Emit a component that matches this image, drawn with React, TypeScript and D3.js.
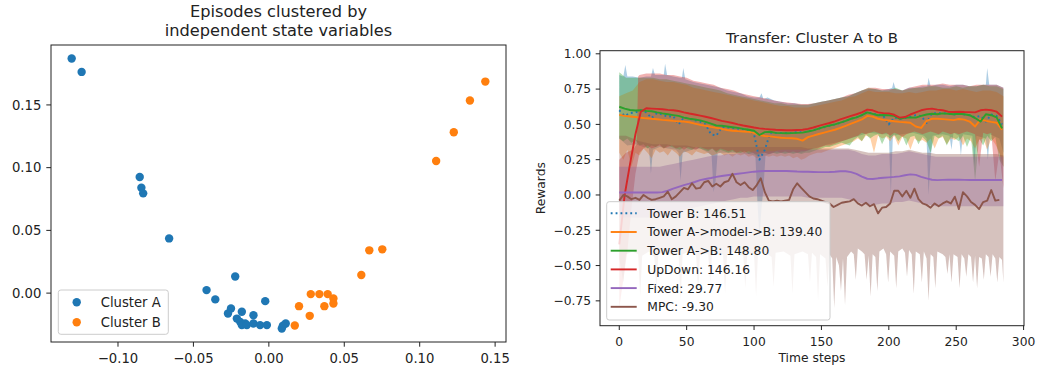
import React from "react";
import * as d3 from "d3";

const FONT = "'DejaVu Sans', 'Liberation Sans', sans-serif";
const C = {
  blue: "#1f77b4",
  orange: "#ff7f0e",
  green: "#2ca02c",
  red: "#d62728",
  purple: "#9467bd",
  brown: "#8c564b",
};

// ---------------- Left panel: episodes clustered by state variables ----------------
const CLUSTER_A_X = [
  -0.1307, -0.1241, -0.0856, -0.0845, -0.0833, -0.0661, -0.0223, -0.0413, -0.0355, -0.0024,
  -0.0251, -0.0271, -0.0179, -0.0102, -0.0212, -0.019, -0.0157, -0.0179, -0.0146, -0.0102,
  -0.0058, -0.0013, 0.0086, 0.0112, 0.0093,
];
const CLUSTER_A_Y = [
  0.187, 0.1763, 0.0926, 0.084, 0.0795, 0.0436, 0.0133, 0.0024, -0.005, -0.0064,
  -0.0122, -0.0162, -0.0149, -0.0176, -0.0203, -0.0229, -0.0242, -0.0255, -0.0255, -0.0242,
  -0.0255, -0.0255, -0.0282, -0.0242, -0.026,
];
const CLUSTER_B_X = [
  0.1435, 0.1333, 0.1226, 0.1109, 0.0752, 0.0666, 0.0613, 0.0278, 0.0335, 0.039,
  0.0428, 0.0428, 0.0368, 0.02, 0.0271, 0.0172,
];
const CLUSTER_B_Y = [
  0.1686, 0.1535, 0.1282, 0.1053, 0.0349, 0.0341, 0.0144, -0.0008, -0.0008, -0.0008,
  -0.0043, -0.0083, -0.0104, -0.0104, -0.0181, -0.0258,
];
const SCATTER_X_TICKS = [-0.1, -0.05, 0, 0.05, 0.1, 0.15];
const SCATTER_Y_TICKS = [0, 0.05, 0.1, 0.15];
const CLUSTER_LABELS = ["Cluster A", "Cluster B"];

// ---------------- Right panel: transfer rewards over time ----------------
const EPISODE_STEPS = [0, 286];
const LINE_STEP = 4; // mean curves sampled every 4 time steps (0..284)
const MPC_STEP = 3; // MPC mean sampled every 3 time steps (0..282)
const UPPER_STEP = 5; // band upper edges, every 5 steps (0..285)
const LOWER_STEP = 3; // band lower edges, every 3 steps (0..285)

const TOWER_B_MEAN = [
  0.6, 0.56, 0.58, 0.585, 0.6, 0.585, 0.545, 0.58, 0.57, 0.555,
  0.56, 0.5, 0.55, 0.54, 0.53, 0.52, 0.5, 0.43, 0.42, 0.48,
  0.48, 0.475, 0.47, 0.465, 0.46, 0.43, 0.25, 0.32, 0.44, 0.44,
  0.44, 0.44, 0.44, 0.445, 0.445, 0.45, 0.46, 0.47, 0.48, 0.49,
  0.5, 0.51, 0.525, 0.54, 0.55, 0.565, 0.59, 0.575, 0.57, 0.56,
  0.5, 0.55, 0.54, 0.545, 0.555, 0.565, 0.56, 0.51, 0.58, 0.58,
  0.58, 0.575, 0.57, 0.575, 0.57, 0.565, 0.55, 0.56, 0.52, 0.57,
  0.56, 0.5,
];
const MODEL_MEAN = [
  0.567, 0.56, 0.556, 0.552, 0.547, 0.543, 0.54, 0.536, 0.532, 0.529,
  0.525, 0.522, 0.52, 0.515, 0.505, 0.497, 0.49, 0.482, 0.475, 0.468,
  0.46, 0.455, 0.452, 0.45, 0.447, 0.44, 0.425, 0.418, 0.415, 0.41,
  0.405, 0.403, 0.402, 0.398, 0.385, 0.41, 0.42, 0.432, 0.442, 0.452,
  0.462, 0.475, 0.49, 0.505, 0.52, 0.535, 0.56, 0.555, 0.54, 0.532,
  0.528, 0.522, 0.518, 0.515, 0.512, 0.485, 0.475, 0.525, 0.54, 0.54,
  0.537, 0.534, 0.53, 0.538, 0.534, 0.52, 0.485, 0.535, 0.525, 0.518,
  0.512, 0.462,
];
const A_TO_B_MEAN = [
  0.625, 0.612, 0.602, 0.598, 0.6, 0.596, 0.593, 0.585, 0.578, 0.572,
  0.566, 0.56, 0.548, 0.54, 0.535, 0.528, 0.518, 0.505, 0.492, 0.49,
  0.485, 0.48, 0.475, 0.468, 0.462, 0.455, 0.425, 0.445, 0.448, 0.44,
  0.438, 0.437, 0.438, 0.44, 0.442, 0.45, 0.458, 0.47, 0.482, 0.492,
  0.5, 0.512, 0.525, 0.54, 0.55, 0.565, 0.585, 0.575, 0.565, 0.567,
  0.565, 0.56, 0.54, 0.548, 0.55, 0.548, 0.56, 0.57, 0.575, 0.572,
  0.578, 0.575, 0.572, 0.575, 0.572, 0.565, 0.545, 0.52, 0.572, 0.565,
  0.55, 0.472,
];
const UPDOWN_MEAN = [
  -0.35, 0.0, 0.22, 0.43, 0.59, 0.614, 0.612, 0.61, 0.607, 0.603,
  0.6, 0.595, 0.585, 0.577, 0.57, 0.562, 0.554, 0.545, 0.535, 0.525,
  0.518, 0.51, 0.5, 0.492, 0.485, 0.478, 0.472, 0.468, 0.465, 0.462,
  0.46, 0.458, 0.458, 0.46, 0.462, 0.468, 0.478, 0.49, 0.5, 0.51,
  0.522, 0.535, 0.548, 0.56, 0.572, 0.585, 0.605, 0.6, 0.585, 0.58,
  0.578, 0.568, 0.548, 0.552, 0.57, 0.585, 0.6, 0.608, 0.612, 0.605,
  0.6, 0.59, 0.588, 0.59, 0.588, 0.587, 0.585, 0.6, 0.605, 0.6,
  0.59, 0.555,
];
const FIXED_MEAN = [
  0.018, 0.018, 0.018, 0.018, 0.018, 0.018, 0.018, 0.018, 0.02, 0.03,
  0.045, 0.058, 0.07, 0.08, 0.092, 0.105, 0.113, 0.12, 0.128, 0.134,
  0.14, 0.145, 0.15, 0.155, 0.16, 0.165, 0.168, 0.17, 0.17, 0.17,
  0.17, 0.17, 0.168, 0.166, 0.165, 0.164, 0.163, 0.162, 0.162, 0.163,
  0.165, 0.168, 0.168, 0.162, 0.15, 0.13, 0.115, 0.113, 0.118, 0.122,
  0.125, 0.128, 0.132, 0.14, 0.146, 0.142, 0.128, 0.118, 0.108, 0.105,
  0.107, 0.108, 0.108, 0.108, 0.107, 0.106, 0.106, 0.106, 0.106, 0.106,
  0.106, 0.106,
];
const MPC_MEAN = [
  -0.04, 0.0, -0.01, -0.03, -0.02, -0.035, 0.0, -0.02, -0.035, -0.03,
  -0.02, -0.01, 0.024, -0.03, -0.01, 0.02, 0.05, 0.04, 0.083, 0.045,
  0.05, 0.09, 0.1, 0.06, 0.08, 0.06, 0.09, 0.1, 0.15, 0.09,
  0.07, 0.09, 0.055, 0.035, 0.07, 0.118, 0.02, -0.04, -0.045, -0.04,
  -0.045, -0.04, -0.035, 0.04, 0.083, 0.05, 0.02, -0.01, -0.025, -0.03,
  -0.04, -0.05, -0.06, -0.085, -0.07, -0.055, -0.05, -0.045, -0.03, -0.06,
  -0.075, -0.055, -0.08, -0.065, -0.13, -0.09, -0.085, -0.06, 0.03, 0.03,
  -0.01, 0.03, -0.02, 0.045, -0.03, -0.06, -0.07, -0.09, -0.06, -0.08,
  -0.06, -0.045, -0.06, -0.012, -0.1, 0.02, -0.01, -0.05, -0.07, -0.1,
  -0.05, -0.04, 0.035, -0.04, -0.035,
];

// Tower B band edges as [time step, reward] — thin spikes sampled where they occur
const TOWER_B_UPPER: [number, number][] = [
  [0, 0.85], [3, 0.84], [4.5, 0.92], [6, 0.84], [10, 0.84], [15, 0.83], [20, 0.84], [23.5, 0.84],
  [25, 0.9], [26.5, 0.85], [30, 0.85], [33, 0.85], [34, 0.93], [35.5, 0.85], [40, 0.84], [45, 0.83],
  [46.5, 0.83], [47.5, 0.9], [49, 0.82], [55, 0.8], [60, 0.79], [65, 0.78], [70, 0.77], [75, 0.76],
  [80, 0.74], [85, 0.73], [90, 0.72], [95, 0.7], [100, 0.69], [104, 0.69], [105.5, 0.72], [107, 0.68],
  [110, 0.69], [115, 0.67], [120, 0.66], [125, 0.65], [130, 0.65], [135, 0.64], [140, 0.64], [145, 0.65],
  [150, 0.66], [155, 0.67], [160, 0.68], [165, 0.69], [170, 0.7], [175, 0.72], [180, 0.74], [185, 0.75],
  [190, 0.75], [195, 0.74], [200, 0.75], [202.5, 0.76], [203.5, 0.8], [205, 0.75], [210, 0.74], [215, 0.76],
  [220, 0.76], [225, 0.77], [228.5, 0.77], [229.5, 0.83], [231, 0.77], [235, 0.78], [240, 0.78], [245, 0.77],
  [250, 0.78], [255, 0.78], [260, 0.77], [265, 0.77], [270, 0.78], [272, 0.78], [273, 0.9], [274.5, 0.78],
  [280, 0.78], [285, 0.76],
];
const TOWER_B_LOWER: [number, number][] = [
  [0, 0.4], [6, 0.35], [12, 0.36], [18, 0.34], [22, 0.33], [23.5, 0.15], [25, 0.32], [30, 0.34],
  [36, 0.33], [42, 0.32], [44, 0.3], [45.5, 0.1], [47, 0.3], [54, 0.32], [60, 0.33], [66, 0.3],
  [68.5, 0.28], [70, 0.02], [71.5, 0.1], [73, 0.3], [80, 0.3], [88, 0.3], [96, 0.29], [101, 0.28],
  [102.5, -0.05], [104, -0.3], [105.5, -0.1], [107, 0.05], [108.5, 0.28], [115, 0.3], [125, 0.3], [135, 0.3],
  [145, 0.33], [155, 0.36], [165, 0.38], [175, 0.41], [185, 0.44], [195, 0.43], [200, 0.43], [201.5, 0.0],
  [203, 0.42], [210, 0.43], [218, 0.44], [226, 0.42], [228, 0.4], [229.5, 0.0], [231, 0.25], [232.5, 0.42],
  [240, 0.43], [245, 0.42], [246.5, 0.32], [248, 0.44], [252, 0.42], [253.5, 0.28], [255, 0.43], [262, 0.42],
  [263.5, 0.2], [265, 0.42], [272, 0.4], [273.5, 0.25], [275, 0.43], [282, 0.4], [285, 0.3],
];
const MODEL_UPPER = [
  0.7, 0.72, 0.74, 0.8, 0.82, 0.82, 0.81, 0.8, 0.8, 0.79,
  0.78, 0.76, 0.75, 0.74, 0.73, 0.72, 0.71, 0.7, 0.69, 0.68,
  0.67, 0.66, 0.65, 0.64, 0.63, 0.63, 0.62, 0.62, 0.62, 0.63,
  0.64, 0.65, 0.66, 0.67, 0.69, 0.7, 0.72, 0.74, 0.73, 0.73,
  0.73, 0.72, 0.72, 0.73, 0.72, 0.73, 0.74, 0.74, 0.75, 0.75,
  0.74, 0.75, 0.74, 0.73, 0.74, 0.74, 0.73, 0.7,
];
const MODEL_LOWER = [
  0.3, 0.25, 0.32, 0.2, 0.3, 0.28, 0.33, 0.3, 0.26, 0.32,
  0.3, 0.31, 0.28, 0.32, 0.3, 0.27, 0.31, 0.3, 0.28, 0.31,
  0.3, 0.29, 0.3, 0.28, 0.29, 0.3, 0.28, 0.29, 0.27, 0.29,
  0.28, 0.29, 0.27, 0.28, 0.26, 0.27, 0.28, 0.27, 0.28, 0.27,
  0.28, 0.27, 0.28, 0.26, 0.27, 0.25, 0.26, 0.28, 0.29, 0.3,
  0.3, 0.31, 0.32, 0.33, 0.34, 0.35, 0.36, 0.37, 0.38, 0.4,
  0.38, 0.42, 0.41, 0.3, 0.42, 0.4, 0.41, 0.38, 0.42, 0.35,
  0.41, 0.4, 0.32, 0.4, 0.38, 0.39, 0.37, 0.4, 0.33, 0.4,
  0.41, 0.36, 0.4, 0.39, 0.41, 0.35, 0.4, 0.38, 0.33, 0.39,
  0.4, 0.32, 0.4, 0.36, 0.3, 0.2,
];
const A_TO_B_UPPER = [
  0.87, 0.83, 0.83, 0.83, 0.83, 0.83, 0.82, 0.82, 0.81, 0.8,
  0.79, 0.78, 0.77, 0.76, 0.75, 0.74, 0.72, 0.71, 0.7, 0.69,
  0.68, 0.67, 0.66, 0.65, 0.65, 0.64, 0.64, 0.64, 0.64, 0.65,
  0.66, 0.67, 0.68, 0.69, 0.7, 0.72, 0.74, 0.76, 0.75, 0.74,
  0.74, 0.76, 0.74, 0.75, 0.76, 0.76, 0.77, 0.77, 0.76, 0.76,
  0.77, 0.76, 0.77, 0.77, 0.78, 0.77, 0.77, 0.75,
];
const A_TO_B_LOWER = [
  0.4, 0.38, 0.4, 0.37, 0.39, 0.35, 0.36, 0.33, 0.35, 0.34,
  0.36, 0.33, 0.35, 0.34, 0.33, 0.32, 0.34, 0.33, 0.32, 0.34,
  0.33, 0.32, 0.31, 0.33, 0.3, 0.32, 0.31, 0.3, 0.31, 0.3,
  0.3, 0.31, 0.29, 0.3, 0.28, 0.29, 0.3, 0.29, 0.3, 0.29,
  0.3, 0.29, 0.3, 0.29, 0.3, 0.29, 0.3, 0.3, 0.31, 0.32,
  0.33, 0.34, 0.34, 0.35, 0.36, 0.37, 0.36, 0.35, 0.39, 0.41,
  0.38, 0.43, 0.4, 0.42, 0.43, 0.36, 0.42, 0.4, 0.43, 0.38,
  0.42, 0.35, 0.41, 0.42, 0.36, 0.41, 0.38, 0.3, 0.42, 0.4,
  0.42, 0.35, 0.41, 0.4, 0.38, 0.42, 0.34, 0.41, 0.1, 0.4,
  0.35, 0.42, 0.38, 0.41, 0.25, 0.2,
];
// UpDown upper edge: low while the agent warms up, then a sharp jump near step 14
const UPDOWN_UPPER: [number, number][] = [
  [0, 0.25], [5, 0.3], [10, 0.32], [13, 0.36], [14, 0.84], [15, 0.85], [20, 0.86], [25, 0.86],
  [30, 0.86], [35, 0.85], [40, 0.85], [45, 0.84], [50, 0.83], [55, 0.81], [60, 0.8], [65, 0.79],
  [70, 0.78], [75, 0.76], [80, 0.75], [85, 0.74], [90, 0.72], [95, 0.71], [100, 0.7], [105, 0.69],
  [110, 0.68], [115, 0.67], [120, 0.66], [125, 0.655], [130, 0.65], [135, 0.645], [140, 0.645], [145, 0.65],
  [150, 0.66], [155, 0.67], [160, 0.68], [165, 0.69], [170, 0.71], [175, 0.72], [180, 0.74], [185, 0.76],
  [190, 0.76], [195, 0.75], [200, 0.75], [205, 0.75], [210, 0.74], [215, 0.76], [220, 0.77], [225, 0.78],
  [230, 0.78], [235, 0.78], [240, 0.79], [245, 0.78], [250, 0.78], [255, 0.78], [260, 0.77], [265, 0.78],
  [270, 0.78], [275, 0.78], [280, 0.78], [285, 0.76],
];
const UPDOWN_LOWER = [
  -0.8, -0.6, -0.4, -0.1, 0.15, 0.3, 0.33, 0.35, 0.33, 0.34,
  0.35, 0.33, 0.34, 0.35, 0.33, 0.34, 0.32, 0.34, 0.33, 0.32,
  0.34, 0.33, 0.32, 0.33, 0.31, 0.33, 0.32, 0.31, 0.32, 0.3,
  0.31, 0.3, 0.31, 0.3, 0.29, 0.3, 0.3, 0.29, 0.3, 0.31,
  0.3, 0.31, 0.3, 0.31, 0.3, 0.31, 0.31, 0.32, 0.33, 0.33,
  0.34, 0.35, 0.35, 0.36, 0.37, 0.38, 0.39, 0.4, 0.41, 0.42,
  0.44, 0.43, 0.44, 0.45, 0.44, 0.43, 0.44, 0.42, 0.44, 0.43,
  0.41, 0.43, 0.44, 0.45, 0.44, 0.43, 0.44, 0.45, 0.44, 0.43,
  0.45, 0.44, 0.43, 0.44, 0.43, 0.44, 0.45, 0.44, 0.43, 0.2,
  0.44, 0.43, 0.44, 0.1, 0.3, 0.05,
];
const FIXED_UPPER = [
  0.2, 0.2, 0.2, 0.2, 0.2, 0.2, 0.2, 0.21, 0.22, 0.23,
  0.24, 0.25, 0.26, 0.27, 0.28, 0.28, 0.29, 0.29, 0.3, 0.3,
  0.31, 0.31, 0.31, 0.31, 0.32, 0.32, 0.32, 0.32, 0.32, 0.32,
  0.32, 0.32, 0.32, 0.32, 0.32, 0.31, 0.29, 0.28, 0.28, 0.29,
  0.29, 0.29, 0.3, 0.31, 0.3, 0.29, 0.28, 0.27, 0.27, 0.27,
  0.27, 0.27, 0.27, 0.27, 0.27, 0.27, 0.27, 0.27,
];
const FIXED_LOWER = [
  -0.16, -0.16, -0.16, -0.16, -0.16, -0.16, -0.16, -0.15, -0.13, -0.12,
  -0.1, -0.09, -0.08, -0.07, -0.06, -0.05, -0.04, -0.03, -0.02, -0.02,
  -0.01, -0.01, -0.01, -0.01, -0.01, -0.01, -0.01, -0.01, -0.02, -0.02,
  -0.02, -0.02, -0.02, -0.02, -0.03, -0.04, -0.06, -0.07, -0.07, -0.06,
  -0.06, -0.05, -0.05, -0.04, -0.05, -0.06, -0.07, -0.08, -0.08, -0.08,
  -0.08, -0.08, -0.08, -0.08, -0.08, -0.08, -0.08, -0.08,
];
const MPC_UPPER = [
  0.42, 0.42, 0.4, 0.38, 0.37, 0.36, 0.36, 0.36, 0.35, 0.35,
  0.35, 0.34, 0.34, 0.34, 0.34, 0.34, 0.34, 0.34, 0.34, 0.34,
  0.34, 0.34, 0.34, 0.34, 0.34, 0.34, 0.34, 0.34, 0.33, 0.33,
  0.33, 0.33, 0.33, 0.33, 0.33, 0.32, 0.31, 0.3, 0.3, 0.3,
  0.3, 0.31, 0.31, 0.32, 0.31, 0.3, 0.3, 0.29, 0.29, 0.29,
  0.29, 0.29, 0.29, 0.29, 0.29, 0.29, 0.29, 0.28,
];
// MPC lower edge as [time step, reward]: a ragged floor near -0.42 with narrow deep dips
const MPC_LOWER: [number, number][] = [
  [0, -0.45], [3, -0.62], [5, -0.42], [10, -0.4], [14, -0.42], [15.5, -0.72], [17, -0.43], [22, -0.4],
  [26, -0.44], [27.5, -0.66], [29, -0.42], [34, -0.4], [40, -0.43], [44, -0.42], [45.5, -0.75], [47, -0.42],
  [52, -0.4], [57, -0.43], [58.5, -0.68], [60, -0.41], [66, -0.42], [67.5, -0.62], [69, -0.4], [75, -0.43],
  [77, -0.42], [78.5, -0.7], [80, -0.42], [86, -0.4], [92, -0.43], [93.5, -0.66], [95, -0.41], [100, -0.42],
  [101.5, -0.72], [103, -0.4], [110, -0.42], [113, -0.44], [114.5, -0.65], [116, -0.41], [122, -0.4], [127, -0.43],
  [128.5, -0.7], [130, -0.42], [136, -0.4], [140, -0.42], [141.5, -0.62], [143, -0.41], [146, -0.44], [147.5, -0.75],
  [149, -0.42], [153, -0.45], [154.5, -0.65], [156, -0.42], [158, -0.45], [159.5, -0.8], [161, -0.44], [163, -0.5],
  [164.5, -0.68], [166, -0.45], [167.5, -0.78], [169, -0.44], [172, -0.4], [174, -0.42], [175.5, -0.6], [177, -0.38],
  [180, -0.4], [182, -0.42], [183.5, -0.6], [185, -0.43], [186.5, -0.72], [188, -0.42], [190, -0.44], [191.5, -0.68],
  [193, -0.4], [196, -0.38], [198, -0.42], [199.5, -0.62], [201, -0.4], [204, -0.43], [205.5, -0.66], [207, -0.4],
  [210, -0.38], [212, -0.41], [213.5, -0.58], [215, -0.39], [217, -0.42], [218.5, -0.7], [220, -0.4], [223, -0.42],
  [224.5, -0.62], [226, -0.4], [228, -0.45], [229.5, -0.75], [231, -0.42], [233, -0.44], [234.5, -0.66], [236, -0.4],
  [240, -0.42], [242, -0.44], [243.5, -0.56], [245, -0.42], [246.5, -0.62], [248, -0.42], [251, -0.44], [252.5, -0.66],
  [254, -0.42], [256, -0.45], [257.5, -0.58], [259, -0.42], [261, -0.44], [262.5, -0.62], [264, -0.43], [265.5, -0.66],
  [267, -0.44], [269, -0.45], [270.5, -0.6], [272, -0.42], [274, -0.44], [275.5, -0.58], [277, -0.42], [279, -0.45],
  [280.5, -0.62], [282, -0.44], [284, -0.46], [285, -0.62],
];

const REWARD_Y_TICKS = [-0.75, -0.5, -0.25, 0, 0.25, 0.5, 0.75, 1.0];
const TIME_X_TICKS = [0, 50, 100, 150, 200, 250, 300];

type Pt = [number, number];
const onGrid = (vals: number[], step: number): Pt[] => vals.map((v, i) => [i * step, v] as Pt);

type Series = {
  label: string;
  color: string;
  mean: Pt[];
  upper: Pt[];
  lower: Pt[];
  dotted?: boolean;
};

const SERIES: Series[] = [
  { label: "Tower B: 146.51", color: C.blue, mean: onGrid(TOWER_B_MEAN, LINE_STEP), upper: TOWER_B_UPPER, lower: TOWER_B_LOWER, dotted: true },
  { label: "Tower A->model->B: 139.40", color: C.orange, mean: onGrid(MODEL_MEAN, LINE_STEP), upper: onGrid(MODEL_UPPER, UPPER_STEP), lower: onGrid(MODEL_LOWER, LOWER_STEP) },
  { label: "Tower A->B: 148.80", color: C.green, mean: onGrid(A_TO_B_MEAN, LINE_STEP), upper: onGrid(A_TO_B_UPPER, UPPER_STEP), lower: onGrid(A_TO_B_LOWER, LOWER_STEP) },
  { label: "UpDown: 146.16", color: C.red, mean: onGrid(UPDOWN_MEAN, LINE_STEP), upper: UPDOWN_UPPER, lower: onGrid(UPDOWN_LOWER, LOWER_STEP) },
  { label: "Fixed: 29.77", color: C.purple, mean: onGrid(FIXED_MEAN, LINE_STEP), upper: onGrid(FIXED_UPPER, UPPER_STEP), lower: onGrid(FIXED_LOWER, UPPER_STEP) },
  { label: "MPC: -9.30", color: C.brown, mean: onGrid(MPC_MEAN, MPC_STEP), upper: onGrid(MPC_UPPER, UPPER_STEP), lower: MPC_LOWER },
];

const fmt2 = (v: number) => d3.format(".2f")(v).replace("-", "\u2212");

function ScatterPanel() {
  const L = 51, R = 506, T = 45, B = 342;
  const xs = [...CLUSTER_A_X, ...CLUSTER_B_X];
  const ys = [...CLUSTER_A_Y, ...CLUSTER_B_Y];
  const [xa, xb] = d3.extent(xs) as [number, number];
  const [ya, yb] = d3.extent(ys) as [number, number];
  const px = (xb - xa) * 0.05;
  const py = (yb - ya) * 0.05;
  const x = d3.scaleLinear().domain([xa - px, xb + px]).range([L, R]);
  const y = d3.scaleLinear().domain([ya - py, yb + py]).range([B, T]);
  const r = 4.2;
  const tick = 4.7;
  const fs = 13.2;

  return (
    <g>
      <text x={(L + R) / 2} y={16.8} textAnchor="middle" fontSize={16.2} fill="#222">
        Episodes clustered by
      </text>
      <text x={(L + R) / 2} y={36.4} textAnchor="middle" fontSize={16.2} fill="#222">
        independent state variables
      </text>
      {CLUSTER_A_X.map((v, i) => (
        <circle key={"a" + i} cx={x(v)} cy={y(CLUSTER_A_Y[i])} r={r} fill={C.blue} />
      ))}
      {CLUSTER_B_X.map((v, i) => (
        <circle key={"b" + i} cx={x(v)} cy={y(CLUSTER_B_Y[i])} r={r} fill={C.orange} />
      ))}
      <rect x={L} y={T} width={R - L} height={B - T} fill="none" stroke="#222" strokeWidth={1} />
      {SCATTER_X_TICKS.map((t) => (
        <g key={"sx" + t}>
          <line x1={x(t)} x2={x(t)} y1={B} y2={B + tick} stroke="#222" strokeWidth={1} />
          <text x={x(t)} y={362.6} textAnchor="middle" fontSize={fs} fill="#222">
            {fmt2(t)}
          </text>
        </g>
      ))}
      {SCATTER_Y_TICKS.map((t) => (
        <g key={"sy" + t}>
          <line x1={L - tick} x2={L} y1={y(t)} y2={y(t)} stroke="#222" strokeWidth={1} />
          <text x={L - tick - 5} y={y(t) + 4.7} textAnchor="end" fontSize={fs} fill="#222">
            {fmt2(t)}
          </text>
        </g>
      ))}
      <g>
        <rect x={58.3} y={290} width={110} height={44.3} rx={2.6} fill="white" fillOpacity={0.8} stroke="#cccccc" strokeWidth={1} />
        {CLUSTER_LABELS.map((lab, i) => (
          <g key={lab}>
            <circle cx={76.7} cy={302.3 + i * 20} r={r} fill={i === 0 ? C.blue : C.orange} />
            <text x={100.7} y={302.3 + i * 20 + 4.8} fontSize={fs} fill="#222">
              {lab}
            </text>
          </g>
        ))}
      </g>
    </g>
  );
}

function TransferPanel() {
  const L = 600, R = 1024, T = 50.7, B = 325.7;
  const [s0, s1] = EPISODE_STEPS;
  const pad = (s1 - s0) * 0.05;
  const x = d3.scaleLinear().domain([s0 - pad, s1 + pad]).range([L, R]);
  const y = d3.scaleLinear().domain([-0.926, 1.022]).range([B, T]);
  const tick = 4.3;
  const fs = 12.3;
  const lw = 1.9;

  const line = d3
    .line<Pt>()
    .x((d) => x(d[0]))
    .y((d) => y(d[1]));
  const band = (s: Series) => (line([...s.upper, ...[...s.lower].reverse()]) || "") + "Z";

  const rowH = 18.7;

  return (
    <g>
      <defs>
        <clipPath id="transfer-clip">
          <rect x={L} y={T} width={R - L} height={B - T} />
        </clipPath>
      </defs>
      <text x={(L + R) / 2} y={43} textAnchor="middle" fontSize={14.9} fill="#222">
        Transfer: Cluster A to B
      </text>
      <g clipPath="url(#transfer-clip)">
        {SERIES.map((s) => (
          <path key={"band" + s.label} d={band(s)} fill={s.color} fillOpacity={0.36} stroke="none" />
        ))}
        {SERIES.map((s) => (
          <path
            key={"line" + s.label}
            d={line(s.mean) || ""}
            fill="none"
            stroke={s.color}
            strokeWidth={lw}
            strokeDasharray={s.dotted ? "1.85 3.05" : undefined}
            strokeLinejoin="round"
          />
        ))}
      </g>
      <rect x={L} y={T} width={R - L} height={B - T} fill="none" stroke="#222" strokeWidth={1} />
      {TIME_X_TICKS.map((t) => (
        <g key={"tx" + t}>
          <line x1={x(t)} x2={x(t)} y1={B} y2={B + tick} stroke="#222" strokeWidth={1} />
          <text x={x(t)} y={346.3} textAnchor="middle" fontSize={fs} fill="#222">
            {t}
          </text>
        </g>
      ))}
      {REWARD_Y_TICKS.map((t) => (
        <g key={"ty" + t}>
          <line x1={L - tick} x2={L} y1={y(t)} y2={y(t)} stroke="#222" strokeWidth={1} />
          <text x={L - tick - 4.6} y={y(t) + 4.4} textAnchor="end" fontSize={fs} fill="#222">
            {fmt2(t)}
          </text>
        </g>
      ))}
      <text x={(L + R) / 2} y={362} textAnchor="middle" fontSize={fs} fill="#222">
        Time steps
      </text>
      <text
        transform={`translate(544.5, ${(T + B) / 2}) rotate(-90)`}
        textAnchor="middle"
        fontSize={fs}
        fill="#222"
      >
        Rewards
      </text>
      <g>
        <rect x={606.7} y={201.7} width={223.3} height={118.3} rx={2.5} fill="white" fillOpacity={0.8} stroke="#cccccc" strokeWidth={1} />
        {SERIES.map((s, i) => {
          const cy = 213.3 + i * rowH;
          return (
            <g key={"leg" + s.label}>
              <line
                x1={610.7}
                x2={636.7}
                y1={cy}
                y2={cy}
                stroke={s.color}
                strokeWidth={lw}
                strokeDasharray={s.dotted ? "1.85 3.05" : undefined}
              />
              <text x={647.3} y={cy + 4.4} fontSize={fs} fill="#222">
                {s.label}
              </text>
            </g>
          );
        })}
      </g>
    </g>
  );
}

export default function App() {
  return (
    <svg
      width={1040}
      height={373}
      viewBox="0 0 1040 373"
      style={{ position: "absolute", left: 0, top: 0, background: "white" }}
      fontFamily={FONT}
    >
      <rect x={0} y={0} width={1040} height={373} fill="white" />
      <ScatterPanel />
      <TransferPanel />
    </svg>
  );
}
